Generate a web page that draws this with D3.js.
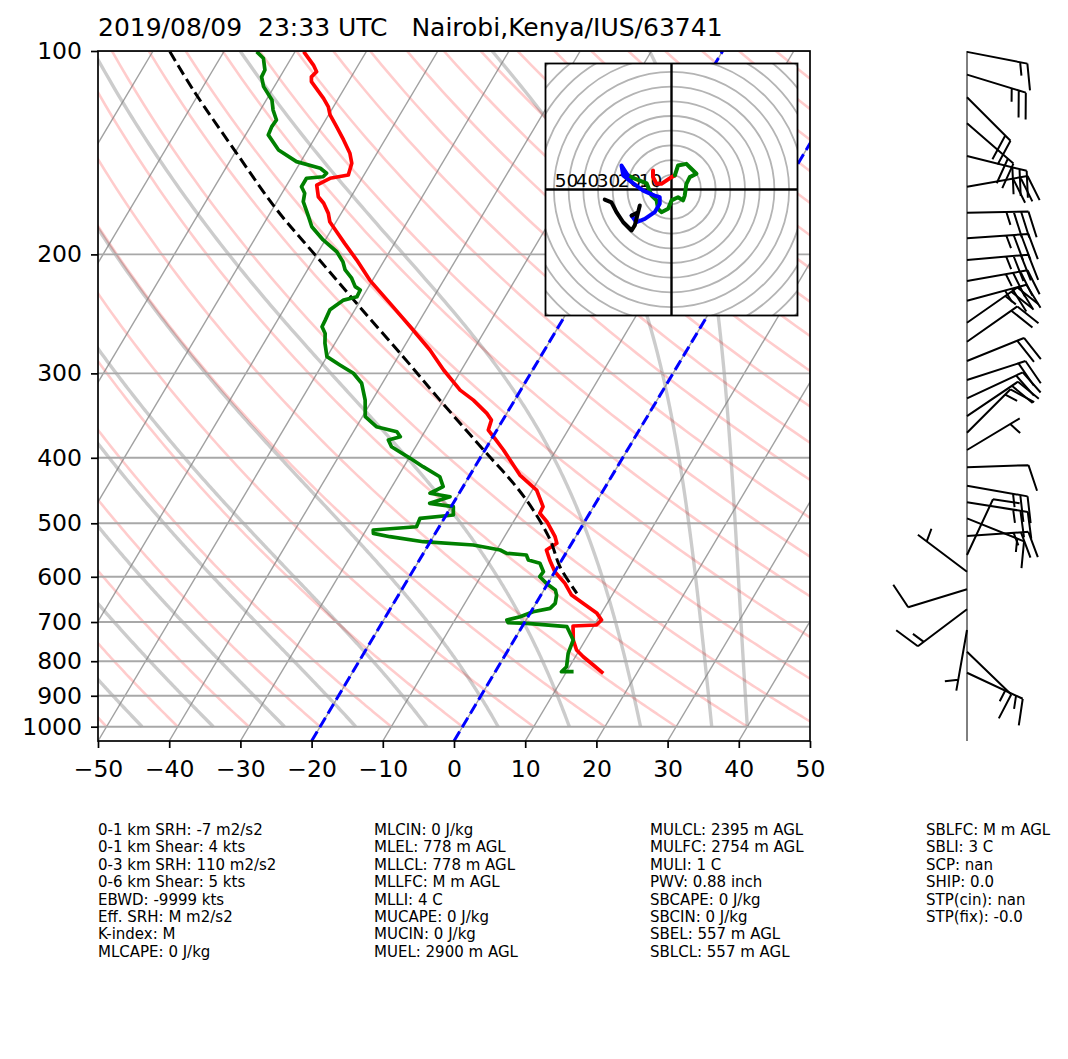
<!DOCTYPE html>
<html><head><meta charset="utf-8">
<script src="https://cdn.jsdelivr.net/npm/d3@7"></script>
<style>
body{margin:0;background:#fff;}
svg{display:block;}
text{font-family:"DejaVu Sans",sans-serif;}
</style>
</head><body>
<svg id="c" width="1068" height="1059"></svg>
<script>
// ---------------- data ----------------
const titleText = "2019/08/09  23:33 UTC   Nairobi,Kenya/IUS/63741";
const xTicks = [-50,-40,-30,-20,-10,0,10,20,30,40,50];
const pTicks = [100,200,300,400,500,600,700,800,900,1000];

const tempP = [100.2,104.9,107.3,109.2,111.0,117.5,121.0,124.3,129.4,135.4,141.7,146.6,152.6,154.3,157.9,164.3,168.0,173.9,178.9,185.1,192.6,203.9,218.3,236.3,255.9,277.0,296.6,317.6,328.6,343.8,351.7,363.9,374.3,389.5,424.2,446.4,472.5,483.3,497.3,523.4,535.3,547.7,566.7,589.7,613.7,638.6,656.9,679.6,695.3,707.2,709.6,744.3,770.1,787.9,810.5,833.7];
const tempT = [-78.8,-76.3,-75.3,-75.6,-75.2,-72.1,-70.7,-69.8,-67.9,-65.8,-63.8,-62.7,-62.2,-64.5,-65.8,-64.6,-63.3,-61.8,-60.9,-59.1,-57.0,-53.9,-50.4,-45.6,-40.8,-36.1,-32.5,-28.5,-25.8,-22.8,-21.6,-21.2,-19.6,-17.4,-13.0,-9.4,-7.1,-7.0,-5.3,-2.9,-2.1,-3.0,-1.7,0.0,2.4,4.3,6.6,9.4,10.6,10.3,7.1,8.3,9.6,11.1,13.2,15.3];

const dewP = [100.2,102.5,106.7,109.2,112.9,118.2,122.3,126.5,129.4,133.1,140.1,145.8,149.1,151.7,153.5,154.3,158.8,162.4,167.1,175.9,182.0,190.4,198.2,205.1,210.9,216.9,223.2,225.8,231.0,233.7,241.6,250.2,255.9,261.8,270.8,283.4,291.5,299.9,310.3,328.6,347.7,359.8,366.0,372.3,376.5,385.2,400.7,412.3,426.7,441.4,451.4,456.7,467.1,472.5,486.1,491.6,505.9,511.6,517.4,523.4,532.4,538.4,547.7,553.9,557.1,566.7,573.1,589.7,599.8,613.7,627.7,638.6,656.9,668.2,676.0,687.6,695.3,701.7,703.1,711.3,744.3,778.9,815.2,829.2,829.2];
const dewT = [-85.4,-83.9,-82.7,-82.6,-81.5,-79.2,-78.2,-76.9,-77.0,-76.8,-74.1,-70.6,-66.7,-65.4,-65.6,-67.8,-67.8,-66.8,-66.3,-64.3,-63.0,-60.3,-57.4,-55.7,-54.7,-53.1,-51.9,-50.9,-50.8,-52.4,-53.5,-53.3,-53.2,-52.2,-51.4,-50.0,-47.5,-44.9,-42.9,-41.0,-39.6,-37.2,-33.9,-33.0,-34.4,-33.4,-29.8,-27.3,-24.1,-22.8,-24.1,-21.0,-23.3,-19.7,-19.0,-23.4,-23.2,-29.0,-28.7,-26.1,-21.0,-13.7,-9.5,-8.3,-5.4,-4.7,-2.8,-1.6,-1.7,-0.2,1.6,2.2,2.7,2.4,0.3,-1.1,-2.7,-2.3,0.4,6.3,8.3,8.7,9.6,9.3,11.0];

const parcelP = [100.2,114.2,141.7,171.9,201.6,236.3,283.4,328.6,393.9,436.4,477.9,529.4,579.8,634.9];
const parcelT = [-97.6,-91.1,-79.7,-69.3,-59.8,-50.3,-39.3,-30.5,-19.5,-13.2,-8.2,-3.3,0.3,4.9];

const isoT = [-160,-150,-140,-130,-120,-110,-100,-90,-80,-70,-60,-50,-40,-30,-20,-10,0,10,20,30,40,50];
const dryT0 = [-60,-50,-40,-30,-20,-10,0,10,20,30,40,50,60,70,80,90,100,110,120,130,140,150,160,170,180,190,200,210,220,230,240,250];
const moistT0 = [-45,-35,-25,-15,-5,5,15,25,35,40];
const markIsotherms = [-20, 0];

const barbP = [100.3,108.4,117.1,127.9,143.0,158.8,173.5,189.3,203.9,218.9,234.2,252.5,269.3,287.6,306.9,326.6,347.0,367.3,389.5,413.2,439.9,465.5,491.6,522.3,557.1,589.7,626.1,670.3,719.4,774.5,832.1];
const barbDir = [101,107,135,131,104,80,89,86,85,80,75,55,55,68,72,65,56,45,59,88,100,99,112,86,25,307,253,233,190,134,115];
const barbSpd = [15,25,20,20,30,30,35,35,35,35,35,25,20,20,20,20,20,15,5,10,25,25,15,25,10,5,10,15,5,15,15];

const hodoU = [-8.8,-8.8,-7.1,-4.8,0,1.6, 3.1,7.1,8.7,11.9,8.7,7.1,6.3,5.5,3.1,0,-1.6,-4.8,-6.4,-7.1,-9.5,-11.8,-17.5,-20.8, -23.8,-23.0,-19.0,-13.5,-8.0,-5.6,-5.6,-8.0,-12.7,-16.7,-19.0, -15.9,-15.1,-15.9,-17.5,-19.0,-23.0,-26.2,-28.6,-31.8];
const hodoV = [9.0,5.9,2.7,2.7,5.9,6.7, 11.4,12.2,10.6,7.5,5.9,2.7,-2.9,-5.2,-3.7,-5.2,-9.2,-10.8,-9.2,-5.2,-2.9,2.9,5.2,6.7, 11.4,6.7,3.5,-0.5,-2.9,-3.7,-6.8,-10.8,-14.0,-15.6,-12.4, -10.8,-7.6,-10.8,-17.1,-19.5,-15.6,-10.8,-6.1,-4.8];
const hodoBreaks = [0,5,23,34,43];
const hodoColors = ["#ff0000","#008000","#0000ff","#000000"];
const hodoRings = [7,14,21,28,35,42,49,56,63,70,77,84];
const hodoLabels = [10,20,30,40,50];

const stats = [
 ["0-1 km SRH: -7 m2/s2","0-1 km Shear: 4 kts","0-3 km SRH: 110 m2/s2","0-6 km Shear: 5 kts","EBWD: -9999 kts","Eff. SRH: M m2/s2","K-index: M","MLCAPE: 0 J/kg"],
 ["MLCIN: 0 J/kg","MLEL: 778 m AGL","MLLCL: 778 m AGL","MLLFC: M m AGL","MLLI: 4 C","MUCAPE: 0 J/kg","MUCIN: 0 J/kg","MUEL: 2900 m AGL"],
 ["MULCL: 2395 m AGL","MULFC: 2754 m AGL","MULI: 1 C","PWV: 0.88 inch","SBCAPE: 0 J/kg","SBCIN: 0 J/kg","SBEL: 557 m AGL","SBLCL: 557 m AGL"],
 ["SBLFC: M m AGL","SBLI: 3 C","SCP: nan","SHIP: 0.0","STP(cin): nan","STP(fix): -0.0"]
];

// ---------------- layout ----------------
const svg = d3.select("#c");
const L = 98, R = 810, T = 51, B = 741;
const x = d3.scaleLinear().domain([-50, 50]).range([L, R]);
const y = d3.scaleLog().domain([1050, 100]).range([B, T]);
const skewK = Math.tan(30 * Math.PI / 180) * (R - L) / (B - T);
const X = (t, p) => x(t) + skewK * (B - y(p));

svg.append("rect").attr("width", 1068).attr("height", 1059).attr("fill", "#fff");
const defs = svg.append("defs");
defs.append("clipPath").attr("id", "plotclip").append("rect")
  .attr("x", L).attr("y", T).attr("width", R - L).attr("height", B - T);

const plot = svg.append("g").attr("clip-path", "url(#plotclip)");
const line = d3.line().x(d => X(d[1], d[0])).y(d => y(d[0]));
const levels = d3.range(1000, 99.9, -5);

// dry adiabats
dryT0.forEach(t0 => {
  const th = t0 + 273.15;
  const pts = levels.map(p => [p, th * Math.pow(p / 1000, 0.28571) - 273.15]);
  plot.append("path").attr("d", line(pts)).attr("fill", "none")
    .attr("stroke", "#ff0000").attr("stroke-opacity", 0.2).attr("stroke-width", 2.6);
});

// moist adiabats
const Rd = 287.04749, Lv = 2.50084e6, Cpd = 1004.666, eps = 0.6219569;
function es(Tk) { const c = Tk - 273.15; return 6.112 * Math.exp(17.67 * c / (c + 243.5)); }
function rs(p, Tk) { const e = es(Tk); return eps * e / (p - e); }
function dTdp(p, Tk) { const r = rs(p, Tk); return (Rd * Tk + Lv * r) / (Cpd + Lv * Lv * r * eps / (Rd * Tk * Tk)) / p; }
moistT0.forEach(t0 => {
  let Tk = t0 + 273.15, p = 1000;
  const pts = [[p, t0]];
  const h = -2.5;
  while (p > 100.01) {
    const k1 = dTdp(p, Tk), k2 = dTdp(p + h / 2, Tk + h / 2 * k1), k3 = dTdp(p + h / 2, Tk + h / 2 * k2), k4 = dTdp(p + h, Tk + h * k3);
    Tk += h / 6 * (k1 + 2 * k2 + 2 * k3 + k4); p += h;
    pts.push([p, Tk - 273.15]);
  }
  plot.append("path").attr("d", line(pts)).attr("fill", "none")
    .attr("stroke", "#000").attr("stroke-opacity", 0.2).attr("stroke-width", 3.4);
});

// isotherms
isoT.forEach(t => {
  plot.append("line").attr("x1", X(t, 1050)).attr("y1", y(1050)).attr("x2", X(t, 100)).attr("y2", y(100))
    .attr("stroke", "#808080").attr("stroke-opacity", 0.75).attr("stroke-width", 1.4);
});
// isobars
pTicks.forEach(p => {
  plot.append("line").attr("x1", L).attr("x2", R).attr("y1", y(p)).attr("y2", y(p))
    .attr("stroke", "#a8a8a8").attr("stroke-width", 1.9);
});

// profiles
const zip = (a, b) => a.map((v, i) => [v, b[i]]);
plot.append("path").attr("d", line(zip(tempP, tempT))).attr("fill", "none")
  .attr("stroke", "#ff0000").attr("stroke-width", 3.7).attr("stroke-linejoin", "round");
plot.append("path").attr("d", line.curve(d3.curveCatmullRom)(zip(parcelP, parcelT))).attr("fill", "none")
  .attr("stroke", "#000").attr("stroke-width", 3).attr("stroke-dasharray", "11,5");
line.curve(d3.curveLinear);
plot.append("path").attr("d", line(zip(dewP, dewT))).attr("fill", "none")
  .attr("stroke", "#008000").attr("stroke-width", 3.7).attr("stroke-linejoin", "round");

markIsotherms.forEach(t => {
  plot.append("line").attr("x1", X(t, 1050)).attr("y1", y(1050)).attr("x2", X(t, 100)).attr("y2", y(100))
    .attr("stroke", "#0000ff").attr("stroke-width", 3).attr("stroke-dasharray", "11,5");
});

// spines
svg.append("rect").attr("x", L).attr("y", T).attr("width", R - L).attr("height", B - T)
  .attr("fill", "none").attr("stroke", "#000").attr("stroke-width", 1.7);

// axes
const fs = 23.5;
const xAxis = svg.append("g").attr("transform", `translate(0,${B})`)
  .call(d3.axisBottom(x).tickValues(xTicks).tickSize(7).tickPadding(12));
const yAxis = svg.append("g").attr("transform", `translate(${L},0)`)
  .call(d3.axisLeft(y).tickValues(pTicks).tickFormat(d3.format("d")).tickSize(7).tickPadding(9));
[xAxis, yAxis].forEach(g => {
  g.select(".domain").remove();
  g.selectAll(".tick line").attr("stroke", "#000").attr("stroke-width", 1.7);
  g.selectAll("text").attr("font-size", fs).attr("font-family", "DejaVu Sans").attr("fill", "#000");
});

// title
svg.append("text").attr("x", L).attr("y", 36).attr("font-size", 25)
  .style("white-space", "pre").text(titleText);

// ---------------- hodograph ----------------
const hx0 = 545.5, hy0 = 63.5, hs = 252;
const hu = d3.scaleLinear().domain([-60, 60]).range([hx0, hx0 + hs]);
const hv = d3.scaleLinear().domain([-60, 60]).range([hy0 + hs, hy0]);
defs.append("clipPath").attr("id", "hodoclip").append("rect")
  .attr("x", hx0).attr("y", hy0).attr("width", hs).attr("height", hs);
const hodo = svg.append("g");
hodo.append("rect").attr("x", hx0).attr("y", hy0).attr("width", hs).attr("height", hs).attr("fill", "#fff");
const hin = hodo.append("g").attr("clip-path", "url(#hodoclip)");
hodoRings.forEach(r => {
  hin.append("circle").attr("cx", hu(0)).attr("cy", hv(0)).attr("r", hu(r) - hu(0))
    .attr("fill", "none").attr("stroke", "#b4b4b4").attr("stroke-width", 1.8);
});
hin.append("line").attr("x1", hx0).attr("x2", hx0 + hs).attr("y1", hv(0)).attr("y2", hv(0)).attr("stroke", "#000").attr("stroke-width", 2.4);
hin.append("line").attr("y1", hy0).attr("y2", hy0 + hs).attr("x1", hu(0)).attr("x2", hu(0)).attr("stroke", "#000").attr("stroke-width", 2.4);
hodoLabels.forEach(v => {
  hin.append("text").attr("x", hu(-v)).attr("y", hv(0) - 3).attr("text-anchor", "middle")
    .attr("font-size", 18.5).text(v);
});
const hline = d3.line().x(i => hu(hodoU[i])).y(i => hv(hodoV[i]));
for (let s = 0; s < hodoBreaks.length - 1; s++) {
  const idx = d3.range(hodoBreaks[s], hodoBreaks[s + 1] + 1);
  hin.append("path").attr("d", hline(idx)).attr("fill", "none").attr("stroke", hodoColors[s])
    .attr("stroke-width", 4).attr("stroke-linecap", "round").attr("stroke-linejoin", "round");
}
hodo.append("rect").attr("x", hx0).attr("y", hy0).attr("width", hs).attr("height", hs)
  .attr("fill", "none").attr("stroke", "#000").attr("stroke-width", 1.8);

// ---------------- wind barbs ----------------
const bx = 967;
svg.append("line").attr("x1", bx).attr("x2", bx).attr("y1", T).attr("y2", B).attr("stroke", "#000").attr("stroke-width", 1);
const BL = 61.5, BH = 0.42 * BL, BW = 0.25 * BL, BS = 0.12 * BL;
barbP.forEach((p, i) => {
  const th = barbDir[i] * Math.PI / 180;
  const dx = Math.sin(th), dy = -Math.cos(th);
  const fx = Math.cos(th), fy = Math.sin(th);
  const x0 = bx, y0 = y(p);
  let d = `M${x0},${y0}L${x0 + dx * BL},${y0 + dy * BL}`;
  let halves = Math.round(barbSpd[i] / 5);
  const full = Math.floor(halves / 2), half = halves % 2;
  let off = BL;
  for (let k = 0; k < full; k++) {
    const sx = x0 + dx * off, sy = y0 + dy * off;
    d += `M${sx},${sy}L${sx + fx * BH + dx * BW / 2},${sy + fy * BH + dy * BW / 2}`;
    off -= BS;
  }
  if (half) {
    if (off === BL) off -= 1.5 * BS;
    const sx = x0 + dx * off, sy = y0 + dy * off;
    d += `M${sx},${sy}L${sx + fx * BH / 2 + dx * BW / 4},${sy + fy * BH / 2 + dy * BW / 4}`;
  }
  svg.append("path").attr("d", d).attr("fill", "none").attr("stroke", "#000").attr("stroke-width", 2);
});

// ---------------- stats text ----------------
const colX = [98, 374, 650, 926];
stats.forEach((col, c) => {
  col.forEach((s, r) => {
    svg.append("text").attr("x", colX[c]).attr("y", 835 + r * 17.4).attr("font-size", 15).text(s);
  });
});
</script>
</body></html>
